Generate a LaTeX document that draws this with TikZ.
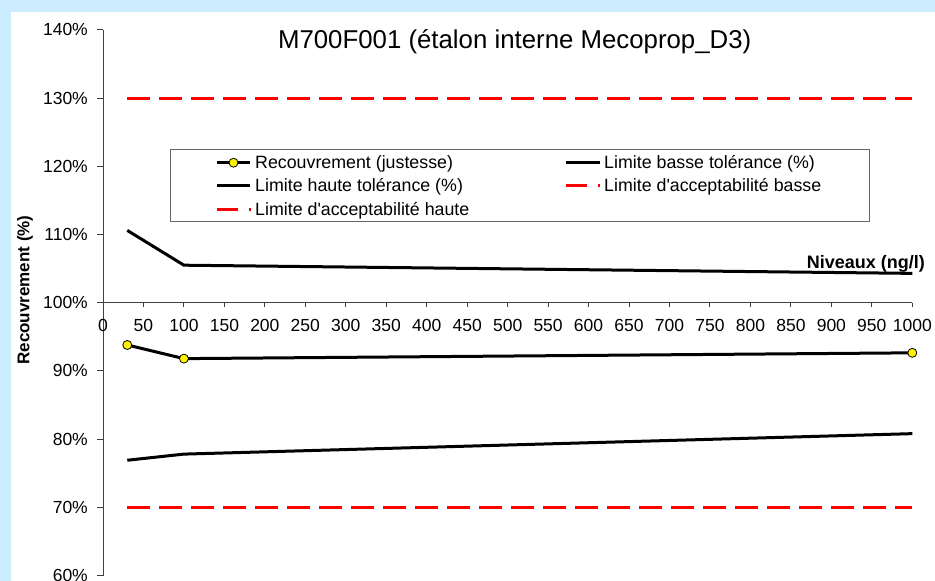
\documentclass[tikz,border=0pt]{standalone}
\usepackage{fontspec}
\setmainfont{Liberation Sans}[Ligatures=TeXOff]
\definecolor{bgblue}{RGB}{204,236,255}
\definecolor{limred}{RGB}{255,0,0}
\begin{document}
\begin{tikzpicture}[x=1pt,y=-1pt,
  axis/.style={draw=black!75, line width=1pt},
  ticklbl/.style={font=\fontsize{17.5}{20}\selectfont, inner sep=0pt},
  lgtext/.style={font=\fontsize{17.8}{20}\selectfont, inner sep=0pt, anchor=base west},
  dataline/.style={draw=black, line width=3pt, line join=round},
  redline/.style={draw=limred, line width=3pt, dash pattern=on 23pt off 9pt},
  redlegend/.style={draw=limred, line width=3pt, dash pattern=on 21pt off 11pt on 2pt off 10pt},
  marker/.style={circle, draw=black, line width=0.8pt, fill=yellow, minimum size=9pt, inner sep=0pt},
  datascope/.style={shift={(103pt,-302.7pt)}, x=0.8093pt, y=6.82pt}]
\useasboundingbox (0,0) rectangle (935,581);
\fill[bgblue] (0,0) rectangle (935,581);
\fill[white] (11,12) rectangle (935,581);

% title
\node[anchor=base, font=\fontsize{25.8}{30}\selectfont, inner sep=0pt] (title) at (514.7,48.3) {M700F001 (étalon interne Mecoprop\_D3)};

% axes
\coordinate (ytop) at (103,29.9);
\coordinate (ybot) at (103,575.5);
\draw[axis] (ytop) -- (ybot);
\coordinate (xaxl) at (103,302.7);
\coordinate (xaxr) at (912.3,302.7);
\draw[axis] (xaxl) -- (xaxr);

\foreach \v in {60,70,...,140} {
  \pgfmathsetmacro\py{302.7-6.82*(\v-100)}
  \draw[axis] (97,\py) -- (103,\py);
  \node[ticklbl, anchor=east] (yl\v) at (88,\py) {\v\%};
}
\foreach \x in {0,50,...,1000} {
  \pgfmathsetmacro\px{103+0.8093*\x}
  \draw[axis] (\px,302.7) -- (\px,307);
  \node[ticklbl, anchor=base] (xl\x) at (\px,331.5) {\x};
}

\node[rotate=90, font=\bfseries\fontsize{17}{20}\selectfont, inner sep=0pt] (ylab) at (25,290) {Recouvrement (\%)};
\node[anchor=base east, font=\bfseries\fontsize{18}{21}\selectfont, inner sep=0pt] (xlab) at (925,268) {Niveaux (ng/l)};

% data
\begin{scope}[datascope]
  \coordinate (h1) at (30,10.6);
  \coordinate (h2) at (100,5.5);
  \coordinate (h3) at (1000,4.3);
  \coordinate (b1) at (30,-23.1);
  \coordinate (b2) at (100,-22.2);
  \coordinate (b3) at (1000,-19.2);
  \coordinate (r1) at (30,-6.2);
  \coordinate (r2) at (100,-8.2);
  \coordinate (r3) at (1000,-7.35);
  \coordinate (ah1) at (30,30);
  \coordinate (ah2) at (1000,30);
  \coordinate (ab1) at (30,-30);
  \coordinate (ab2) at (1000,-30);
\end{scope}
\draw[redline] (ah1) -- (ah2);
\draw[redline] (ab1) -- (ab2);
\draw[dataline] (h1) -- (h2) -- (h3);
\draw[dataline] (b1) -- (b2) -- (b3);
\draw[dataline] (r1) -- (r2) -- (r3);
\node[marker] (m1) at (r1) {};
\node[marker] (m2) at (r2) {};
\node[marker] (m3) at (r3) {};

% legend
\node[draw=black!60, line width=1pt, fill=white, minimum width=699pt, minimum height=72pt, inner sep=0pt, anchor=north west] (legend) at (170,149) {};
\coordinate (l1a) at (217,162.7);
\coordinate (l1b) at (250,162.7);
\draw[dataline] (l1a) -- (l1b);
\node[marker] (lm) at (233.5,162.7) {};
\node[lgtext] (t1) at (255,168.2) {Recouvrement (justesse)};
\coordinate (l2a) at (217,185.5);
\coordinate (l2b) at (250,185.5);
\draw[dataline] (l2a) -- (l2b);
\node[lgtext] (t2) at (255,191.7) {Limite haute tolérance (\%)};
\coordinate (l3a) at (217,209.5);
\coordinate (l3b) at (251,209.5);
\draw[redlegend] (l3a) -- (l3b);
\node[lgtext] (t3) at (255,215.2) {Limite d'acceptabilité haute};
\coordinate (l4a) at (566,162.7);
\coordinate (l4b) at (600,162.7);
\draw[dataline] (l4a) -- (l4b);
\node[lgtext] (t4) at (604,168.2) {Limite basse tolérance (\%)};
\coordinate (l5a) at (566,185.5);
\coordinate (l5b) at (600,185.5);
\draw[redlegend] (l5a) -- (l5b);
\node[lgtext] (t5) at (604,191.7) {Limite d'acceptabilité basse};
\end{tikzpicture}
\end{document}
